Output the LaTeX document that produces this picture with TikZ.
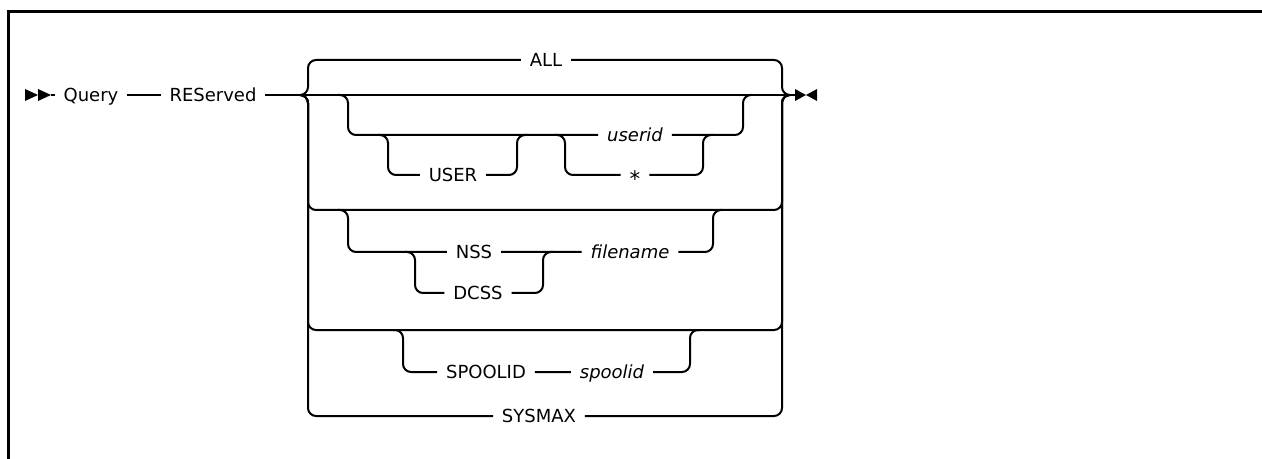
\documentclass[tikz,border=0pt]{standalone}
\usepackage{fontspec}
\setmainfont{DejaVu Sans}
\usepackage{tikz}

\begin{document}
\begin{tikzpicture}[x=0.75pt, y=-0.75pt,
    rail/.style={line width=1.5pt, rounded corners=6pt},
    kw/.style={font=\fontsize{13.5}{16}\selectfont, inner xsep=6.5pt, inner ysep=0pt,
      text height=12.15pt, text depth=2.3pt},
    var/.style={kw, font=\fontsize{13.5}{16}\selectfont\itshape}]
  \useasboundingbox (0,0) rectangle (1262,459);
  % ---- frame ----
  \draw[line width=2.25pt] (8.5,459) |- (1262,11.5);
  % ---- main line ----
  \foreach \x in {25,38}
    \fill (\x,89) -- (\x+13,95) -- (\x,101) -- cycle;
  \coordinate (S) at (51,95);
  \coordinate (J) at (300,95);
  \coordinate (K) at (790,95);
  \coordinate (E) at (795,95);
  \node[kw] (query) at (91,95) {Query};
  \node[kw] (reserved) at (213,95) {REServed};
  \draw[rail] (S) -- (query) -- (reserved) -- (J) -- (K) -- (E);
  \fill (795,89) -- (806,95) -- (795,101) -- cycle;
  \fill (817,89) -- (806,95) -- (817,101) -- cycle;
  % ---- default: ALL ----
  \node[kw] (all) at (546,60) {ALL};
  \draw[rail] (J) -| (308,60) -- (all) -- (782,60) |- (K);
  % ---- USER userid | * ----
  \node[kw] (user) at (453,175) {USER};
  \node[var] (userid) at (635,135) {userid};
  \node[kw] (star) at (635,175) {\raisebox{-0.3em}{\fontsize{16}{16}\selectfont *}};
  \draw[rail] (338,95) -| (348,135) -- (userid) -- (743,135) |- (752,95);
  \draw[rail] (378,135) -| (388,175) -- (user) -| (517,135) -- (527,135);
  \draw[rail] (555,135) -| (565,175) -- (star) -| (703,135) -- (713,135);
  % ---- NSS | DCSS filename ----
  \node[kw] (nss) at (474,252) {NSS};
  \node[kw] (dcss) at (478,293) {DCSS};
  \node[var] (filename) at (630,252) {filename};
  \draw[rail] (J) -| (308,210) -- (782,210) |- (K);
  \draw[rail] (338,210) -| (348,252) -- (nss) -- (filename) -- (713,252) |- (722,210);
  \draw[rail] (405,252) -| (415,293) -- (dcss) -| (543,252) -- (553,252);
  % ---- SPOOLID spoolid ----
  \node[kw] (spool) at (486,372) {SPOOLID};
  \node[var] (spoolid) at (612,372) {spoolid};
  \draw[rail] (J) -| (308,330) -- (782,330) |- (K);
  \draw[rail] (393,330) -| (403,372) -- (spool) -- (spoolid) -| (690,330) -- (700,330);
  % ---- SYSMAX ----
  \node[kw] (sysmax) at (539,416) {SYSMAX};
  \draw[rail] (J) -| (308,416) -- (sysmax) -- (782,416) |- (K);
\end{tikzpicture}
\end{document}
